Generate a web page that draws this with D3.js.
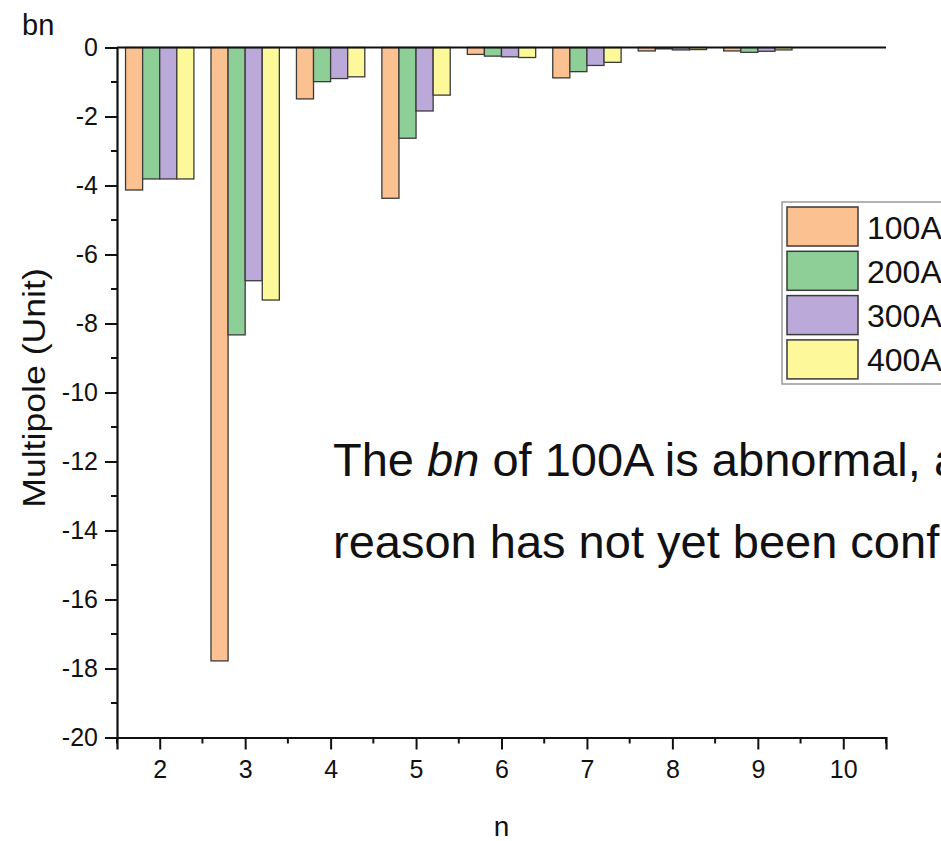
<!DOCTYPE html>
<html>
<head>
<meta charset="utf-8">
<script src="https://cdn.jsdelivr.net/npm/d3@7/dist/d3.min.js"></script>
<style>
  html, body { margin: 0; padding: 0; background: #fff; }
  svg { display: block; }
  text { font-family: "Liberation Sans", Arial, Helvetica, sans-serif; fill: #111; }
</style>
</head>
<body>
<svg id="chart" width="941" height="841"></svg>
<script>
// Harmonic order n and normal multipole bn (units) at each excitation current
const orders = [2, 3, 4, 5, 6, 7, 8, 9, 10];
const seriesNames = ["100A", "200A", "300A", "400A"];
const bn100A = [-4.13, -17.78, -1.49, -4.37, -0.20, -0.88, -0.10, -0.10, 0];
const bn200A = [-3.81, -8.33, -0.99, -2.63, -0.25, -0.70, -0.04, -0.14, 0];
const bn300A = [-3.81, -6.76, -0.90, -1.84, -0.27, -0.52, -0.07, -0.11, 0];
const bn400A = [-3.81, -7.32, -0.85, -1.38, -0.29, -0.43, -0.06, -0.07, 0];
const seriesValues = [bn100A, bn200A, bn300A, bn400A];
const yMajorTicks = [0, -2, -4, -6, -8, -10, -12, -14, -16, -18, -20];
const yMinorTicks = [-1, -3, -5, -7, -9, -11, -13, -15, -17, -19];
const xMinorTicks = [1.5, 2.5, 3.5, 4.5, 5.5, 6.5, 7.5, 8.5, 9.5, 10.5];

const colors = ["#FCC190", "#8ECF98", "#BBA9DA", "#FDF99A"];
const barStroke = "#3a3a3a";

const svg = d3.select("#chart");
const x = d3.scaleLinear().domain([1.5, 10.5]).range([117, 886]);
const y = d3.scaleLinear().domain([-20, 0]).range([737.5, 47.5]);
const barW = 0.2; // in units of n

// bars
const rows = [];
seriesValues.forEach((vals, si) => {
  vals.forEach((v, i) => rows.push({ s: si, n: orders[i], v }));
});
svg.append("g").selectAll("rect").data(rows).join("rect")
  .attr("x", d => x(d.n - 0.4 + d.s * barW))
  .attr("width", d => x(barW) - x(0))
  .attr("y", y(0))
  .attr("height", d => y(d.v) - y(0))
  .attr("fill", d => colors[d.s])
  .attr("stroke", barStroke)
  .attr("stroke-width", 1.3);

// zero line across the top
svg.append("line")
  .attr("x1", x(1.5)).attr("x2", x(10.5))
  .attr("y1", y(0)).attr("y2", y(0))
  .attr("stroke", "#111").attr("stroke-width", 2.2);

// y axis
const yAxis = svg.append("g").attr("transform", `translate(${x(1.5)},0)`);
yAxis.call(d3.axisLeft(y).tickValues(yMajorTicks).tickSize(12).tickPadding(7)
  .tickFormat(d3.format("d")))
  .call(g => g.select(".domain").attr("stroke", "#111").attr("stroke-width", 2.2))
  .call(g => g.selectAll(".tick line").attr("stroke", "#111").attr("stroke-width", 2))
  .call(g => g.selectAll(".tick text").attr("font-size", 25)
    .attr("font-family", "Liberation Sans, Arial, sans-serif").attr("fill", "#111")
    .text(d => d === 0 ? "0" : "-" + Math.abs(d)));
yAxis.call(g => g.selectAll(".tick").filter(d => d === 0).select("line").remove());
yAxis.append("g").selectAll("line").data(yMinorTicks).join("line")
  .attr("x1", 0).attr("x2", -6).attr("y1", d => y(d)).attr("y2", d => y(d))
  .attr("stroke", "#111").attr("stroke-width", 2);

// x axis
const xAxis = svg.append("g").attr("transform", `translate(0,${y(-20)})`);
xAxis.call(d3.axisBottom(x).tickValues(orders).tickSize(12).tickPadding(11)
  .tickFormat(d3.format("d")))
  .call(g => g.select(".domain").attr("stroke", "#111").attr("stroke-width", 2.2))
  .call(g => g.selectAll(".tick line").attr("stroke", "#111").attr("stroke-width", 2))
  .call(g => g.selectAll(".tick text").attr("font-size", 25)
    .attr("font-family", "Liberation Sans, Arial, sans-serif").attr("fill", "#111"));
xAxis.append("g").selectAll("line").data(xMinorTicks).join("line")
  .attr("x1", d => x(d)).attr("x2", d => x(d)).attr("y1", 0).attr("y2", 6)
  .attr("stroke", "#111").attr("stroke-width", 2);

// axis titles
svg.append("text")
  .attr("transform", "translate(45,388) rotate(-90) scale(1.15,1)")
  .attr("text-anchor", "middle").attr("font-size", 31)
  .text("Multipole (Unit)");
svg.append("text")
  .attr("x", x(6)).attr("y", 836)
  .attr("text-anchor", "middle").attr("font-size", 28)
  .text("n");
svg.append("text")
  .attr("x", 22).attr("y", 35).attr("font-size", 29)
  .text("bn");

// legend
const legend = svg.append("g");
legend.append("rect")
  .attr("x", 782).attr("y", 202).attr("width", 200).attr("height", 182)
  .attr("fill", "#fff").attr("stroke", "#9a9a9a").attr("stroke-width", 1.5);
const item = legend.selectAll("g.item").data(seriesNames).join("g")
  .attr("class", "item")
  .attr("transform", (d, i) => `translate(787,${207 + i * 44.3})`);
item.append("rect")
  .attr("width", 71).attr("height", 39)
  .attr("fill", (d, i) => colors[i])
  .attr("stroke", barStroke).attr("stroke-width", 1.5);
item.append("text")
  .attr("x", 80).attr("y", 31.5)
  .attr("font-size", 32)
  .text(d => d);

// annotation
const line1 = svg.append("text")
  .attr("x", 333).attr("y", 476)
  .attr("font-size", 47);
line1.append("tspan").text("The ");
line1.append("tspan").attr("font-style", "italic").text("bn");
line1.append("tspan").text(" of 100A is abnormal, and the");
svg.append("text")
  .attr("x", 333).attr("y", 558)
  .attr("font-size", 47)
  .text("reason has not yet been confirmed.");
</script>
</body>
</html>
